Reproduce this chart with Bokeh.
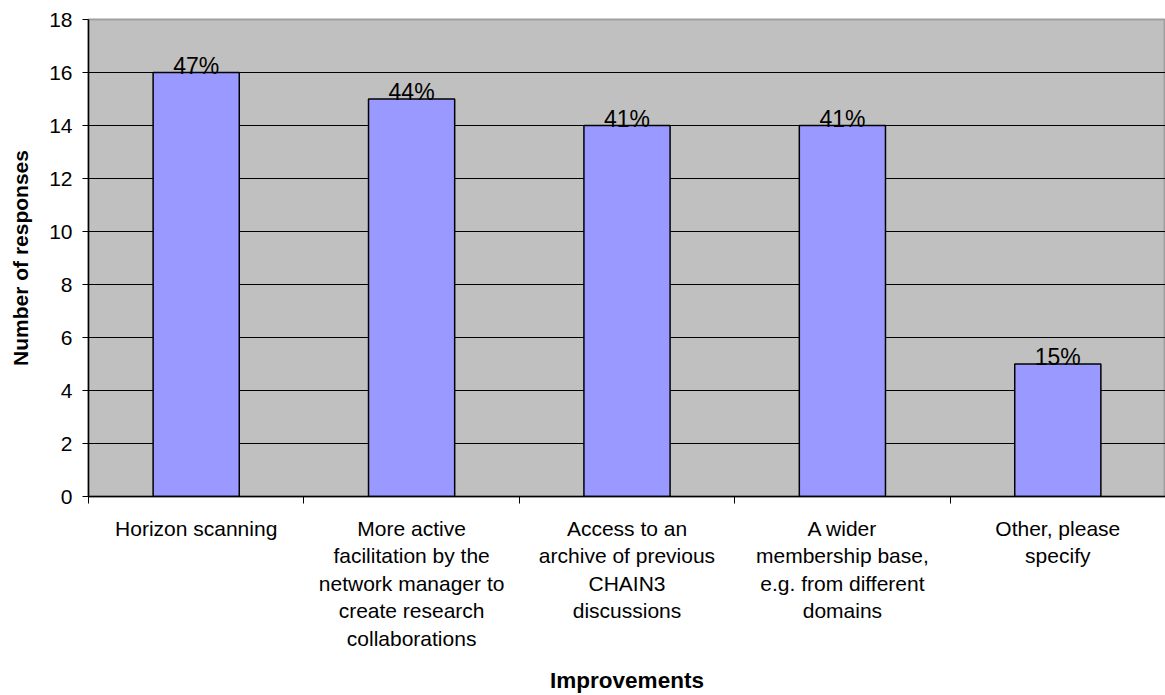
from bokeh.plotting import figure
from bokeh.models import FixedTicker, Range1d, ColumnDataSource
from bokeh.embed import file_html
from bokeh.resources import INLINE
from bokeh.core.properties import value

categories = [
    "Horizon scanning",
    "More active\nfacilitation by the\nnetwork manager to\ncreate research\ncollaborations",
    "Access to an\narchive of previous\nCHAIN3\ndiscussions",
    "A wider\nmembership base,\ne.g. from different\ndomains",
    "Other, please\nspecify",
]
responses = [16, 15, 14, 14, 5]
percent_labels = ["47%", "44%", "41%", "41%", "15%"]
y_ticks = [0, 2, 4, 6, 8, 10, 12, 14, 16, 18]

FONT = "Liberation Sans"
xpos = list(range(1, len(categories) + 1))

src = ColumnDataSource(dict(x=xpos, top=responses, lab=percent_labels))

p = figure(width=1165, height=695, output_backend="svg", toolbar_location=None,
           x_range=Range1d(0.5, len(categories) + 0.5), y_range=Range1d(0, 18),
           min_border_left=88, min_border_right=0, min_border_top=19, min_border_bottom=199)
p.background_fill_color = "#C0C0C0"
p.border_fill_color = "white"
p.outline_line_color = "#A0A0A0"
p.outline_line_width = 2

p.vbar(x="x", top="top", width=0.4, source=src, fill_color="#9999FF",
       line_color="black", line_width=1.5)
p.text(x="x", y="top", text="lab", source=src, text_align="center",
       text_baseline="alphabetic", y_offset=-7,
       text_font=value(FONT), text_font_size="23px", text_color="black")

# x axis
p.xaxis.ticker = FixedTicker(ticks=xpos, minor_ticks=[i + 0.5 for i in range(0, len(categories) + 1)])
p.xaxis.major_label_overrides = {i + 1: c for i, c in enumerate(categories)}
p.xaxis.major_tick_line_color = None
p.xaxis.major_tick_out = 0
p.xaxis.minor_tick_out = 7
p.xaxis.minor_tick_in = 0
p.xaxis.minor_tick_line_color = "black"
p.xaxis.axis_line_color = "black"
p.xaxis.axis_line_width = 1.5
p.xaxis.major_label_standoff = 13
p.xaxis.major_label_text_font = FONT
p.xaxis.major_label_text_font_size = "21px"
p.xaxis.major_label_text_color = "black"
p.xaxis.axis_label = "Improvements"
p.xaxis.axis_label_text_font = FONT
p.xaxis.axis_label_text_font_size = "22.5px"
p.xaxis.axis_label_text_font_style = "bold"
p.xaxis.axis_label_text_color = "black"
p.xaxis.axis_label_standoff = 15

# y axis
p.yaxis.ticker = FixedTicker(ticks=y_ticks, minor_ticks=[])
p.yaxis.major_tick_out = 6
p.yaxis.major_tick_in = 0
p.yaxis.major_tick_line_color = "black"
p.yaxis.axis_line_color = "black"
p.yaxis.axis_line_width = 1.5
p.yaxis.major_label_standoff = 10
p.yaxis.major_label_text_font = FONT
p.yaxis.major_label_text_font_size = "21px"
p.yaxis.major_label_text_color = "black"
p.yaxis.axis_label = "Number of responses"
p.yaxis.axis_label_text_font = FONT
p.yaxis.axis_label_text_font_size = "21px"
p.yaxis.axis_label_text_font_style = "bold"
p.yaxis.axis_label_text_color = "black"
p.yaxis.axis_label_standoff = 14

p.xgrid.grid_line_color = None
p.ygrid.ticker = FixedTicker(ticks=y_ticks)
p.ygrid.grid_line_color = "black"
p.ygrid.grid_line_width = 1.2

open("out.html", "w").write(file_html(p, INLINE))
